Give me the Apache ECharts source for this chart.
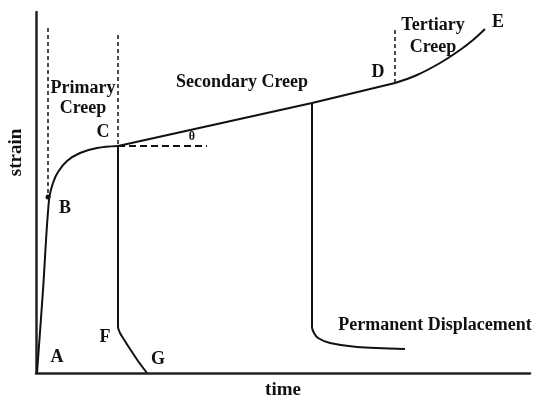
<!DOCTYPE html>
<html>
<head>
<meta charset="utf-8">
<script src="https://cdn.jsdelivr.net/npm/echarts@6/dist/echarts.min.js"></script>
<style>
  html, body { margin: 0; padding: 0; background: #fff; }
  #chart { width: 535px; height: 403px; }
</style>
</head>
<body>
<div id="chart"></div>
<script>
// creep curve, all values in chart units (time, strain)
var loadingCurve = [[1, 0], [7, 83], [13, 173], [17, 190], [22, 201], [31, 212], [44, 220], [61, 225], [82, 227]];
var secondaryLine = [[82, 227], [276, 270], [359, 290]];
var tertiaryCurve = [[359, 290], [381, 298], [404, 310], [424, 323], [437, 333], [449, 344]];
var unloadFromC = [[82, 227], [82, 46], [84, 40], [87, 35], [94, 24], [102, 12], [111, 0]];
var unloadFromMid = [[276, 270], [276, 46], [278, 40], [282, 35], [294, 30], [321, 26], [369, 24]];
var primaryStart = [[12, 345], [12, 176]];
var primaryEnd = [[82, 338], [82, 227]];
var tertiaryStart = [[359, 343], [359, 290]];
var slopeRef = [[82, 227], [171, 227]];
var pointB = [[12, 176]];

var letterNames = ['A', 'B', 'C', 'D', 'E', 'F', 'G'];
var letterPos = [[21, 16], [29, 165], [67, 241], [342, 301], [462, 351], [69, 36], [122, 14]];
var stageNames = ['Primary', 'Creep', 'Secondary Creep', 'Tertiary', 'Creep', 'Permanent Displacement'];
var stagePos = [[47, 285], [47, 265], [206, 291], [397, 348], [397, 326], [399, 48]];
var angleNames = ['θ'];
var anglePos = [[156, 236]];

var chart = echarts.init(document.getElementById('chart'));

var font = 'Liberation Serif';
var solid = { color: '#111', width: 2 };
var dashed = { color: '#111', width: 1.5, type: [4, 3] };

function lineSeries(data, style, smooth) {
    return {
        type: 'line',
        data: data,
        symbol: 'none',
        smooth: smooth || false,
        lineStyle: style,
        silent: true
    };
}

function textSeries(names, pos, size) {
    return {
        type: 'scatter',
        symbolSize: 0,
        clip: false,
        itemStyle: { opacity: 1 },
        data: names.map(function (n, i) { return { name: n, value: pos[i] }; }),
        label: {
            show: true,
            position: 'inside',
            formatter: '{b}',
            color: '#111',
            fontFamily: font,
            fontWeight: 'bold',
            fontSize: size
        },
        silent: true
    };
}

chart.setOption({
    animation: false,
    backgroundColor: '#fff',
    grid: { left: 36, right: 5, top: 12, bottom: 30, outerBoundsMode: 'none', containLabel: false },
    xAxis: {
        type: 'value',
        min: 0,
        max: 494,
        name: 'time',
        nameLocation: 'middle',
        nameGap: 8,
        nameTextStyle: { color: '#111', fontFamily: font, fontWeight: 'bold', fontSize: 19 },
        axisLine: { lineStyle: { color: '#222', width: 2.5 } },
        axisTick: { show: false },
        axisLabel: { show: false },
        splitLine: { show: false }
    },
    yAxis: {
        type: 'value',
        min: 0,
        max: 361,
        name: 'strain',
        nameLocation: 'middle',
        nameGap: 10,
        nameTextStyle: { color: '#111', fontFamily: font, fontWeight: 'bold', fontSize: 19, padding: [0, 0, 0, 80] },
        axisLine: { show: true, lineStyle: { color: '#222', width: 2.5 } },
        axisTick: { show: false },
        axisLabel: { show: false },
        splitLine: { show: false }
    },
    series: [
        lineSeries(loadingCurve, solid, 0.35),
        lineSeries(secondaryLine, solid),
        lineSeries(tertiaryCurve, solid, 0.35),
        lineSeries(unloadFromC, solid, 0.3),
        lineSeries(unloadFromMid, solid, 0.3),
        lineSeries(primaryStart, dashed),
        lineSeries(primaryEnd, dashed),
        lineSeries(tertiaryStart, dashed),
        lineSeries(slopeRef, { color: '#111', width: 2, type: [7, 4] }),
        {
            type: 'scatter',
            data: pointB,
            symbolSize: 5,
            itemStyle: { color: '#111', opacity: 1 },
            silent: true
        },
        textSeries(letterNames, letterPos, 18),
        textSeries(stageNames, stagePos, 18),
        textSeries(angleNames, anglePos, 12)
    ]
});
</script>
</body>
</html>
